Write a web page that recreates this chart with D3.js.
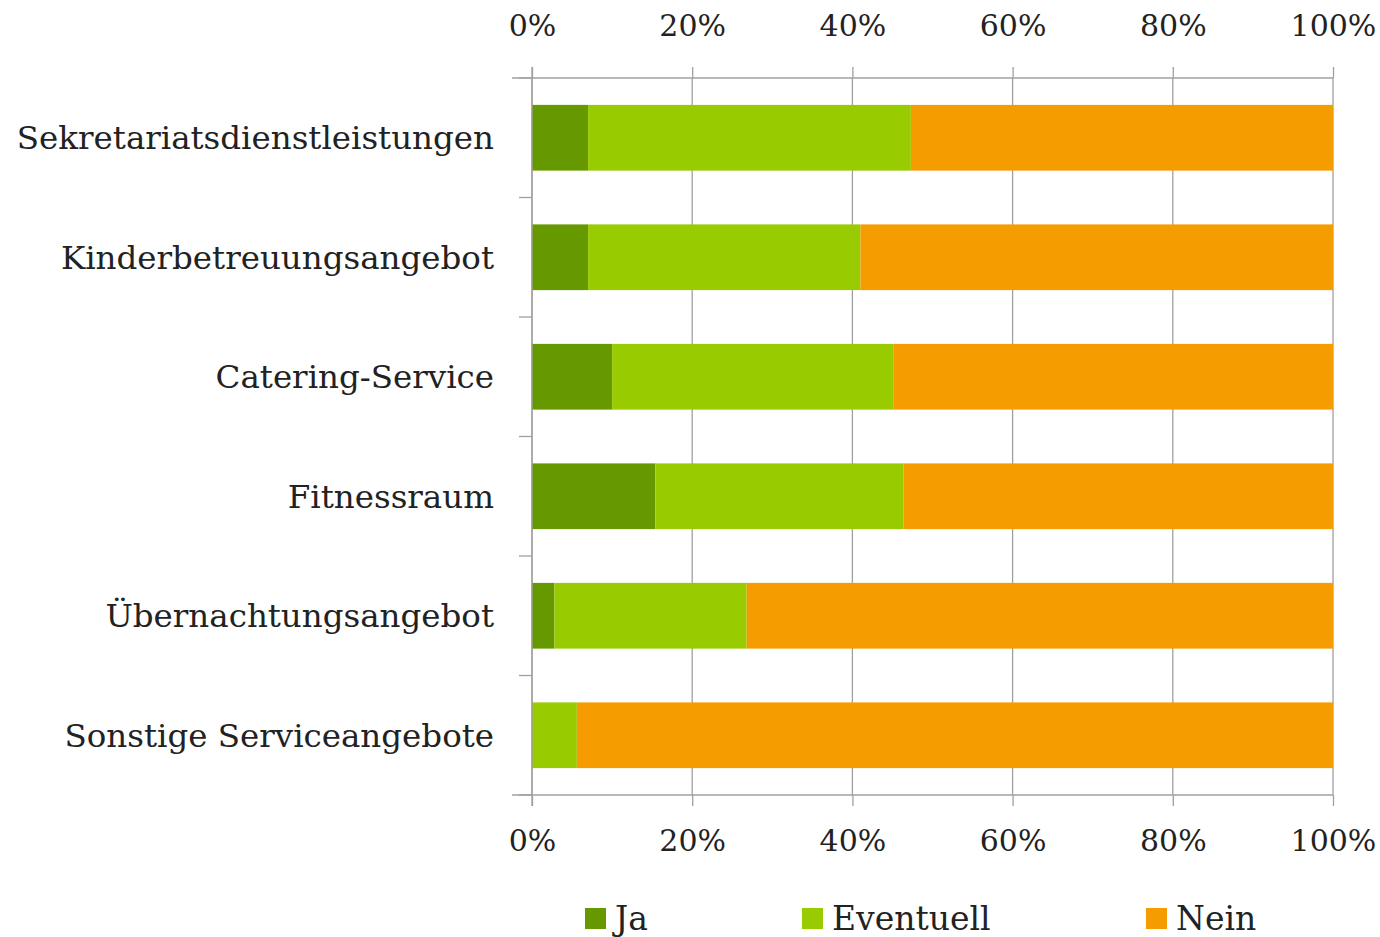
<!DOCTYPE html>
<html>
<head>
<meta charset="utf-8">
<script src="https://cdn.jsdelivr.net/npm/d3@7"></script>
<style>
  body { margin: 0; background: #fff; }
  text { font-family: "DejaVu Serif", "Liberation Serif", serif; fill: #222; }
</style>
</head>
<body>
<div id="container"></div>
<script>
const categories = ['Sekretariatsdienstleistungen', 'Kinderbetreuungsangebot', 'Catering-Service',
                    'Fitnessraum', 'Übernachtungsangebot', 'Sonstige Serviceangebote']
const series = ['Ja', 'Eventuell', 'Nein']
const ja        = [7.0, 7.0, 10.0, 15.4, 2.8, 0.0]
const eventuell = [40.3, 34.0, 35.1, 31.0, 24.0, 5.6]
const nein      = [52.7, 59.0, 54.9, 53.6, 73.2, 94.4]
const xTicks = [0, 20, 40, 60, 80, 100]
const colors = ['#669900', '#99cc00', '#f59c00']

const width = 1380, height = 937
const margin = {top: 78, right: 47, bottom: 142, left: 532}

const svg = d3.select('#container').append('svg')
    .attr('width', width)
    .attr('height', height)

const rows = categories.map((c, i) => ({cat: c, Ja: ja[i], Eventuell: eventuell[i], Nein: nein[i]}))
const stacked = d3.stack().keys(series)(rows)

const x = d3.scaleLinear().domain([0, 100]).range([margin.left, width - margin.right])
const y = d3.scaleBand().domain(categories)
    .range([margin.top, height - margin.bottom])
    .paddingInner(0.45).paddingOuter(0.225)

// gridlines
svg.append('g')
    .selectAll('line')
    .data(xTicks)
    .join('line')
    .attr('x1', d => x(d)).attr('x2', d => x(d))
    .attr('y1', margin.top).attr('y2', height - margin.bottom)
    .attr('stroke', '#a0a0a0').attr('stroke-width', 1.3)

// bars
svg.append('g')
    .selectAll('g')
    .data(stacked)
    .join('g')
    .attr('fill', (d, i) => colors[i])
    .selectAll('rect')
    .data(d => d)
    .join('rect')
    .attr('x', d => x(d[0]))
    .attr('y', d => y(d.data.cat))
    .attr('width', d => x(d[1]) - x(d[0]))
    .attr('height', y.bandwidth())

// axes
const xTop = d3.axisTop(x).tickValues(xTicks).tickFormat(d => d + '%').tickSize(11).tickPadding(31)
const xBottom = d3.axisBottom(x).tickValues(xTicks).tickFormat(d => d + '%').tickSize(11).tickPadding(24)

function styleAxis(g) {
    g.select('.domain').remove()
    g.selectAll('.tick line').attr('stroke', '#a0a0a0').attr('stroke-width', 1.3)
    g.selectAll('.tick text').attr('font-size', 30).attr('font-family', '"DejaVu Serif", serif').attr('fill', '#222')
}

svg.append('g').attr('transform', `translate(0,${margin.top})`).call(xTop).call(styleAxis)
svg.append('g').attr('transform', `translate(0,${height - margin.bottom})`).call(xBottom).call(styleAxis)

// horizontal axis lines extending a bit to the left
svg.append('g').selectAll('line')
    .data([margin.top, height - margin.bottom])
    .join('line')
    .attr('x1', margin.left - 20).attr('x2', x(100))
    .attr('y1', d => d).attr('y2', d => d)
    .attr('stroke', '#a0a0a0').attr('stroke-width', 1.3)

// y axis
const step = y.step()
const yBounds = d3.range(categories.length + 1).map(i => margin.top + i * step)
svg.append('line')
    .attr('x1', margin.left).attr('x2', margin.left)
    .attr('y1', margin.top - 11).attr('y2', height - margin.bottom + 11)
    .attr('stroke', '#a0a0a0').attr('stroke-width', 1.3)
svg.append('g').selectAll('line')
    .data(yBounds)
    .join('line')
    .attr('x1', margin.left - 13).attr('x2', margin.left)
    .attr('y1', d => d).attr('y2', d => d)
    .attr('stroke', '#a0a0a0').attr('stroke-width', 1.3)

svg.append('g').selectAll('text')
    .data(categories)
    .join('text')
    .attr('x', margin.left - 38)
    .attr('y', d => y(d) + y.bandwidth() / 2)
    .attr('dy', '0.35em')
    .attr('text-anchor', 'end')
    .attr('font-size', 32.5)
    .text(d => d)

// legend
const legendX = [585, 802, 1146]
const legend = svg.append('g').selectAll('g')
    .data(series)
    .join('g')
    .attr('transform', (d, i) => `translate(${legendX[i]},918)`)
legend.append('rect')
    .attr('x', 0).attr('y', -10)
    .attr('width', 21).attr('height', 21)
    .attr('fill', (d, i) => colors[i])
legend.append('text')
    .attr('x', 30).attr('dy', '0.35em')
    .attr('font-size', 33)
    .text(d => d)
</script>
</body>
</html>
